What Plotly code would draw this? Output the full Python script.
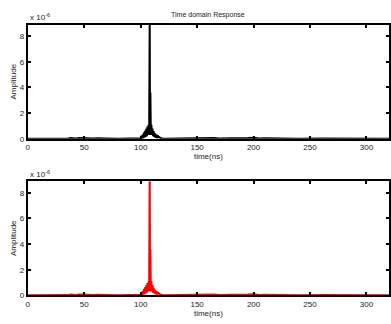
import plotly.graph_objects as go

# time in ns, amplitude in units of 1e-6
time_ns = [0, 10, 20, 30, 34, 36, 38, 42, 46, 50, 54, 58, 62, 66, 70, 80, 90, 95, 98,
           100, 101, 101.5, 102, 102.5, 103, 103.5, 104, 104.5, 105, 105.5, 106, 106.5,
           107, 107.5, 108, 108.3, 108.6, 109, 109.5, 110, 110.5, 111, 111.5, 112,
           112.5, 113, 114, 114.5, 115, 116, 117, 118, 120, 125, 130, 140, 150, 155,
           160, 165, 170, 175, 180, 185, 190, 195, 200, 205, 210, 220, 240, 260, 280, 300, 320]
amplitude_e6 = [0, 0, 0, 0.01, 0.05, 0.02, 0.06, 0.03, 0.07, 0.04, 0.06, 0.03, 0.05, 0.02, 0.03, 0.01, 0.02, 0.05, 0.08,
                0.05, 0.25, 0.02, 0.35, 0.05, 0.5, 0.1, 0.65, 0.15, 0.8, 0.2, 0.95, 0.3,
                1.1, 0.4, 9.5, 0.3, 3.6, 0.5, 1.1, 0.3, 0.8, 0.2, 0.6, 0.15,
                0.45, 0.1, 0.35, 0.05, 0.25, 0.15, 0.08, 0.04, 0.01, 0.02, 0.01, 0.02, 0.03, 0.06,
                0.04, 0.07, 0.03, 0.06, 0.04, 0.05, 0.03, 0.06, 0.08, 0.03, 0.04, 0.02, 0.01, 0.02, 0.01, 0.01, 0]

x_ticks = [0, 50, 100, 150, 200, 250, 300]
y_ticks = [0, 2, 4, 6, 8]

FONT = "Liberation Sans, Arial, sans-serif"

fig = go.Figure()
fig.add_trace(go.Scatter(x=time_ns, y=amplitude_e6, mode="lines",
                         line=dict(color="black", width=2), xaxis="x", yaxis="y",
                         showlegend=False, hoverinfo="skip"))
fig.add_trace(go.Scatter(x=time_ns, y=amplitude_e6, mode="lines",
                         line=dict(color="#ff0000", width=2), xaxis="x2", yaxis="y2",
                         showlegend=False, hoverinfo="skip"))

axis_common = dict(showline=True, linecolor="black", linewidth=2, mirror="ticks",
                   ticks="inside", ticklen=3, tickwidth=2, tickcolor="black",
                   showgrid=False, zeroline=False,
                   tickfont=dict(family=FONT, size=8, color="#222"))

xdom = [26 / 391, 390 / 391]
top_dom = [1 - 141 / 324, 1 - 25 / 324]
bot_dom = [1 - 300 / 324, 1 - 184 / 324]

fig.update_layout(
    width=391, height=324,
    margin=dict(l=0, r=0, t=0, b=0),
    paper_bgcolor="white", plot_bgcolor="white",
    xaxis=dict(domain=xdom, range=[0, 320], tickvals=x_ticks, anchor="y",
               title=dict(text="time(ns)", font=dict(family=FONT, size=8, color="#222"), standoff=2),
               **axis_common),
    yaxis=dict(domain=top_dom, range=[0, 8.9], tickvals=y_ticks, anchor="x",
               title=dict(text="Amplitude", font=dict(family=FONT, size=8, color="#222"), standoff=2),
               **axis_common),
    xaxis2=dict(domain=xdom, range=[0, 320], tickvals=x_ticks, anchor="y2",
                title=dict(text="time(ns)", font=dict(family=FONT, size=8, color="#222"), standoff=2),
                **axis_common),
    yaxis2=dict(domain=bot_dom, range=[0, 8.9], tickvals=y_ticks, anchor="x2",
                title=dict(text="Amplitude", font=dict(family=FONT, size=8, color="#222"), standoff=2),
                **axis_common),
    annotations=[
        dict(text="Time domain Response", x=208 / 391, y=1 - 15 / 324, xref="paper", yref="paper",
             showarrow=False, font=dict(family=FONT, size=7, color="#222"), xanchor="center", yanchor="middle"),
        dict(text="x 10<sup>-6</sup>", x=26 / 391, y=1 - 17 / 324, xref="paper", yref="paper",
             showarrow=False, font=dict(family=FONT, size=8, color="#222"), xanchor="left", yanchor="middle"),
        dict(text="x 10<sup>-6</sup>", x=26 / 391, y=1 - 177 / 324, xref="paper", yref="paper",
             showarrow=False, font=dict(family=FONT, size=8, color="#222"), xanchor="left", yanchor="middle"),
    ],
)

fig.write_html("out.html")
